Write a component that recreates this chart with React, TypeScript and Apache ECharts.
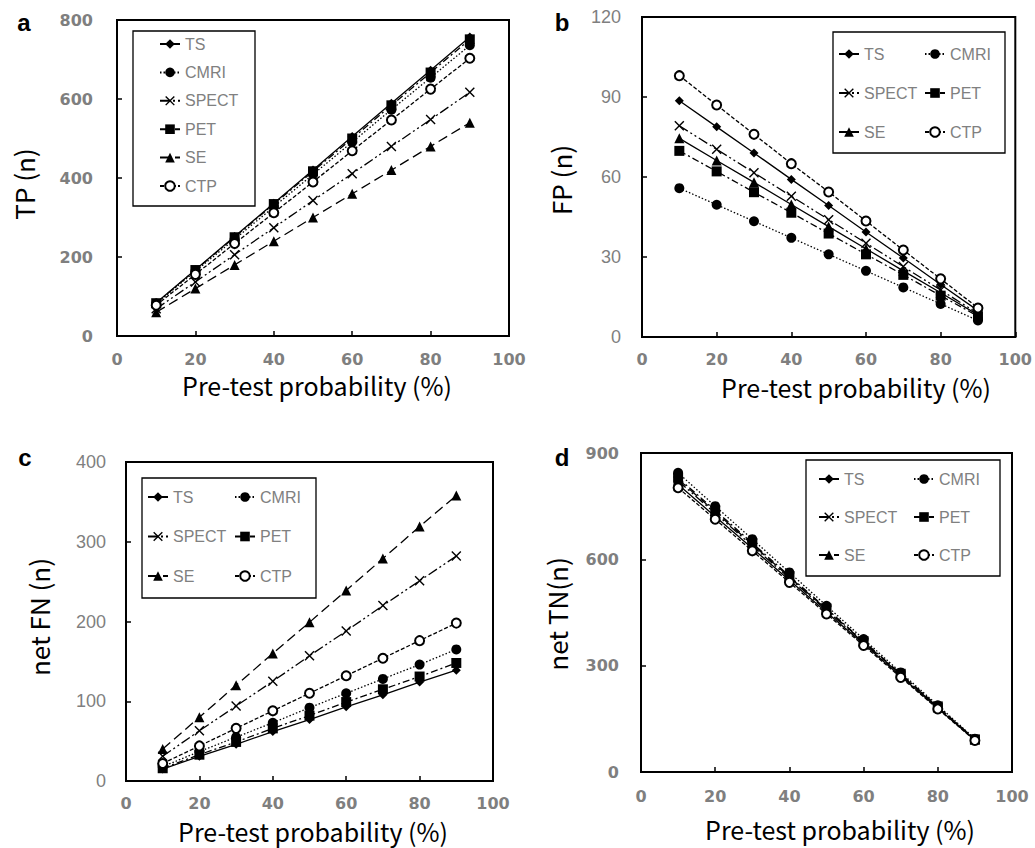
import React, { useEffect, useRef } from "react";
import * as echarts from "echarts";

const PROB = [10, 20, 30, 40, 50, 60, 70, 80, 90];
const METHODS = ["TS", "CMRI", "SPECT", "PET", "SE", "CTP"];

// Panel a: TP (n)
const TP_TS = [84, 168, 252, 336, 420, 505, 589, 673, 757];
const TP_CMRI = [82, 164, 245, 327, 409, 491, 573, 654, 736];
const TP_SPECT = [69, 137, 206, 274, 343, 411, 480, 548, 617];
const TP_PET = [83, 167, 250, 334, 417, 500, 584, 667, 751];
const TP_SE = [60, 120, 180, 240, 300, 360, 420, 480, 540];
const TP_CTP = [78, 156, 234, 312, 390, 469, 547, 625, 703];

// Panel b: FP (n)
const FP_TS = [88.6, 78.8, 69, 59.1, 49.3, 39.4, 29.6, 19.7, 9.9];
const FP_CMRI = [55.8, 49.6, 43.4, 37.2, 31, 24.8, 18.6, 12.4, 6.2];
const FP_SPECT = [79.2, 70.4, 61.6, 52.8, 44, 35.2, 26.4, 17.6, 8.8];
const FP_PET = [69.8, 62.1, 54.3, 46.6, 38.8, 31, 23.3, 15.5, 7.8];
const FP_SE = [74.5, 66.2, 58, 49.7, 41.4, 33.1, 24.8, 16.6, 8.3];
const FP_CTP = [98, 87, 76, 65, 54.4, 43.5, 32.6, 21.8, 10.9];

// Panel c: net FN (n)
const FN_TS = [15, 31, 46, 62, 77, 93, 108, 124, 139];
const FN_CMRI = [18, 37, 55, 73, 92, 110, 128, 146, 165];
const FN_SPECT = [31, 63, 94, 125, 157, 188, 220, 251, 282];
const FN_PET = [16, 33, 49, 66, 82, 99, 115, 131, 148];
const FN_SE = [40, 80, 120, 160, 199, 239, 279, 319, 358];
const FN_CTP = [22, 44, 66, 88, 110, 132, 154, 176, 198];

// Panel d: net TN (n)
const TN_TS = [811, 721, 631, 541, 451, 361, 270, 180, 90];
const TN_CMRI = [844, 750, 657, 563, 469, 375, 281, 188, 94];
const TN_SPECT = [821, 730, 638, 547, 456, 365, 274, 182, 91];
const TN_PET = [830, 738, 646, 553, 461, 369, 277, 185, 92];
const TN_SE = [826, 734, 642, 550, 459, 367, 275, 183, 92];
const TN_CTP = [802, 713, 624, 535, 446, 357, 267, 178, 89];

const X_TICKS = { min: 0, max: 100, interval: 20 };

const PANELS = [
  {
    key: "a", yName: "TP (n)", yMax: 800, yInt: 200, yBold: true, seBsolid: false,
    values: [TP_TS, TP_CMRI, TP_SPECT, TP_PET, TP_SE, TP_CTP],
  },
  {
    key: "b", yName: "FP (n)", yMax: 120, yInt: 30, yBold: false, seBsolid: true,
    values: [FP_TS, FP_CMRI, FP_SPECT, FP_PET, FP_SE, FP_CTP],
  },
  {
    key: "c", yName: "net FN (n)", yMax: 400, yInt: 100, yBold: false, seBsolid: false,
    values: [FN_TS, FN_CMRI, FN_SPECT, FN_PET, FN_SE, FN_CTP],
  },
  {
    key: "d", yName: "net TN(n)", yMax: 900, yInt: 300, yBold: true, seBsolid: false,
    values: [TN_TS, TN_CMRI, TN_SPECT, TN_PET, TN_SE, TN_CTP],
  },
];

// layout (pixels)
const GRIDS = [
  { left: 117, top: 20, width: 392, height: 316, yMargin: 24, xMargin: 15 },
  { left: 642, top: 17, width: 377, height: 320, yMargin: 21, xMargin: 14 },
  { left: 126, top: 462, width: 367, height: 319, yMargin: 20, xMargin: 14 },
  { left: 641, top: 453, width: 371, height: 319, yMargin: 22, xMargin: 16 },
];
const LETTERS = [
  { x: 24, y: 22 },
  { x: 562, y: 22 },
  { x: 25, y: 457 },
  { x: 562, y: 457 },
];
const XTITLES = [
  { x: 317, y: 385 },
  { x: 856, y: 387 },
  { x: 313, y: 831 },
  { x: 840, y: 829 },
];
const YTITLES = [
  { x: 23, y: 184 },
  { x: 560, y: 180 },
  { x: 38, y: 617 },
  { x: 556, y: 614 },
];
const LEG_BOX = [
  { x: 133, y: 31, w: 122, h: 175 },
  { x: 833, y: 32, w: 172, h: 121 },
  { x: 142, y: 478, w: 174, h: 120 },
  { x: 806, y: 460, w: 194, h: 116 },
];
const LEG_COLS = [
  [{ left: 159, top: 37, names: METHODS, gap: 12.4 }],
  [
    { left: 838, top: 47, names: ["TS", "SPECT", "SE"], gap: 23 },
    { left: 924, top: 47, names: ["CMRI", "PET", "CTP"], gap: 23 },
  ],
  [
    { left: 147, top: 490, names: ["TS", "SPECT", "SE"], gap: 23.5 },
    { left: 234, top: 490, names: ["CMRI", "PET", "CTP"], gap: 23.5 },
  ],
  [
    { left: 818, top: 472, names: ["TS", "SPECT", "SE"], gap: 22 },
    { left: 913, top: 472, names: ["CMRI", "PET", "CTP"], gap: 22 },
  ],
];

const X_SYMBOL =
  "path://M0,1L1,0L5,4L9,0L10,1L6,5L10,9L9,10L5,6L1,10L0,9L4,5Z";

function styleFor(method: string, seSolid: boolean) {
  switch (method) {
    case "TS":
      return { symbol: "diamond", symbolSize: 9, line: { type: "solid", width: 1.3 } };
    case "CMRI":
      return { symbol: "circle", symbolSize: 10, line: { type: [1.5, 2], width: 1.3 } };
    case "SPECT":
      return { symbol: X_SYMBOL, symbolSize: 10, line: { type: [10, 3, 2, 3, 2, 3], width: 1.3 } };
    case "PET":
      return { symbol: "rect", symbolSize: 10, line: { type: [7, 3, 2, 3], width: 1.3 } };
    case "SE":
      return { symbol: "triangle", symbolSize: 10, line: { type: seSolid ? "solid" : [10, 5], width: 1.3 } };
    default:
      return { symbol: "emptyCircle", symbolSize: 9, line: { type: [4, 2], width: 1.3 } };
  }
}

export default function App() {
  const ref = useRef<HTMLDivElement>(null);
  useEffect(() => {
    if (!ref.current) return;
    const chart = echarts.init(ref.current, undefined, { renderer: "svg" });
    const tickColor = "#7f7f7f";
    const grid: any[] = [];
    const xAxis: any[] = [];
    const yAxis: any[] = [];
    const series: any[] = [];
    const legend: any[] = [];
    const graphic: any[] = [];

    PANELS.forEach((p, i) => {
      const g = GRIDS[i];
      grid.push({
        left: g.left, top: g.top, width: g.width, height: g.height,
        show: true, borderColor: "#000", borderWidth: 2, backgroundColor: "#fff",
      });
      xAxis.push({
        type: "value", gridIndex: i, ...X_TICKS,
        axisLine: { show: true, lineStyle: { color: "#000", width: 2 } },
        axisTick: { show: true, inside: true, length: 5, lineStyle: { color: "#000", width: 1.5 } },
        splitLine: { show: false },
        axisLabel: {
          color: tickColor, fontFamily: "DejaVu Sans", fontWeight: "bold", fontSize: 16,
          margin: g.xMargin,
        },
      });
      yAxis.push({
        type: "value", gridIndex: i, min: 0, max: p.yMax, interval: p.yInt,
        axisLine: { show: true, lineStyle: { color: "#000", width: 2 } },
        axisTick: { show: true, inside: true, length: 5, lineStyle: { color: "#000", width: 1.5 } },
        splitLine: { show: false },
        axisLabel: {
          color: tickColor, fontFamily: p.yBold ? "DejaVu Sans" : "Liberation Sans",
          fontWeight: p.yBold ? "bold" : "normal", fontSize: p.yBold ? 16 : 18,
          margin: g.yMargin,
        },
      });
      METHODS.forEach((m, k) => {
        const s = styleFor(m, p.seBsolid);
        series.push({
          type: "line",
          name: m + "#" + p.key,
          xAxisIndex: i, yAxisIndex: i,
          data: PROB.map((x, j) => [x, p.values[k][j]]),
          symbol: s.symbol, symbolSize: s.symbolSize,
          showAllSymbol: true,
          lineStyle: { color: "#000", width: s.line.width, type: s.line.type as any },
          itemStyle: { color: "#000", borderWidth: m === "CTP" ? 1.5 : 0 },
          z: 2,
          z2: 10 - k,
        });
      });
      LEG_COLS[i].forEach((c) => {
        legend.push({
          orient: "vertical",
          left: c.left, top: c.top - 1,
          padding: 0,
          itemWidth: 20, itemHeight: 12, itemGap: c.gap,
          selectedMode: false,
          z: 6,
          data: c.names.map((n) => n + "#" + p.key),
          formatter: (n: string) => n.split("#")[0],
          textStyle: { color: "#808080", fontFamily: "Liberation Sans", fontSize: 16, lineHeight: 16 },
        });
      });
      const lb = LEG_BOX[i];
      graphic.push({
        type: "rect", z: 3,
        shape: { x: lb.x, y: lb.y, width: lb.w, height: lb.h },
        style: { fill: "#fff", stroke: "#000", lineWidth: 1.3 },
      });
      graphic.push({
        type: "text", x: LETTERS[i].x, y: LETTERS[i].y,
        style: {
          text: p.key, fill: "#000", font: "bold 24px 'Liberation Sans'",
          textAlign: "center", textVerticalAlign: "middle",
        },
      });
      graphic.push({
        type: "text", x: XTITLES[i].x, y: XTITLES[i].y,
        style: {
          text: "Pre-test probability (%)", fill: "#000", font: "25px 'Noto Sans CJK JP'",
          textAlign: "center", textVerticalAlign: "middle",
        },
      });
      graphic.push({
        type: "text", x: YTITLES[i].x, y: YTITLES[i].y, rotation: Math.PI / 2,
        style: {
          text: p.yName, fill: "#000", font: "26px 'Noto Sans CJK JP'",
          textAlign: "center", textVerticalAlign: "middle",
        },
      });
    });

    chart.setOption({
      animation: false,
      backgroundColor: "#fff",
      grid, xAxis, yAxis, series, legend, graphic,
    });
    return () => chart.dispose();
  }, []);
  return (
    <div
      ref={ref}
      style={{ position: "absolute", left: 0, top: 0, width: 1035, height: 848 }}
    />
  );
}
